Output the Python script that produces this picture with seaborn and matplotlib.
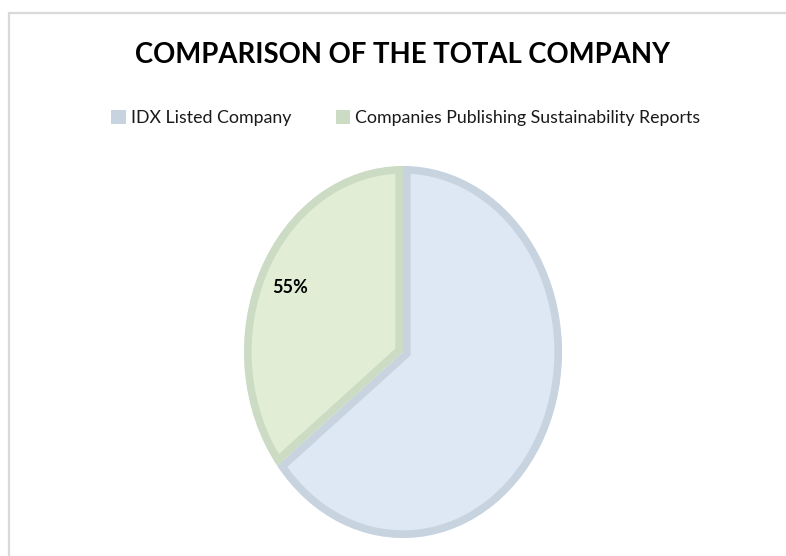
import matplotlib
matplotlib.use("Agg")
import matplotlib.pyplot as plt
from matplotlib.patches import Rectangle, Patch
import seaborn as sns

# data
categories = ["IDX Listed Company", "Companies Publishing Sustainability Reports"]
values = [100, 55]
data_labels = ["", "55%"]
fill_colors = ["#DDE8F4", "#E2EDD6"]
edge_colors = ["#C8D3E0", "#CCDCC4"]
title = "COMPARISON OF THE TOTAL COMPANY"

sns.set_theme(style="white")
plt.rcParams["font.family"] = ["Lato", "DejaVu Sans"]

W, H = 786, 556
fig = plt.figure(figsize=(W / 100, H / 100), dpi=100)

# chart frame (extends beyond the image on right/bottom)
fig.add_artist(Rectangle((9 / W, -0.1), 1.2, (H - 13) / H + 0.1, transform=fig.transFigure,
                         fill=False, edgecolor="#D9D9D9", linewidth=1.6))

cx, cy, rx, ry = 403, 352, 159, 186
ax = fig.add_axes([(cx - rx) / W, (H - cy - ry) / H, 2 * rx / W, 2 * ry / H])

it = iter(data_labels)
wedges, texts, autotexts = ax.pie(values, colors=fill_colors, startangle=90, counterclock=False,
                                  autopct=lambda p: next(it), pctdistance=0.79,
                                  textprops=dict(fontsize=13, fontweight="bold", color="black"))
for w, ec in zip(wedges, edge_colors):
    w.set_edgecolor(ec)
    w.set_linewidth(11)
    w.set_clip_on(True)
    w.set_clip_path(w.get_path(), w.get_transform())
ax.set_aspect("auto")
ax.set_xlim(-1, 1)
ax.set_ylim(-1, 1)
ax.axis("off")

fig.text(403 / W, 1 - 55 / H, title, ha="center", va="center", fontsize=19.8, fontweight="bold",
         color="black")

handles = [Patch(facecolor=c, edgecolor="none") for c in edge_colors]
fig.legend(handles, categories, loc="center", bbox_to_anchor=(406 / W, 1 - 118 / H), ncol=2,
           frameon=False, fontsize=12.8, handlelength=0.8, handleheight=0.8, handletextpad=0.3,
           columnspacing=2.5, labelcolor="#1a1a1a")

fig.savefig("out.png", dpi=100)
